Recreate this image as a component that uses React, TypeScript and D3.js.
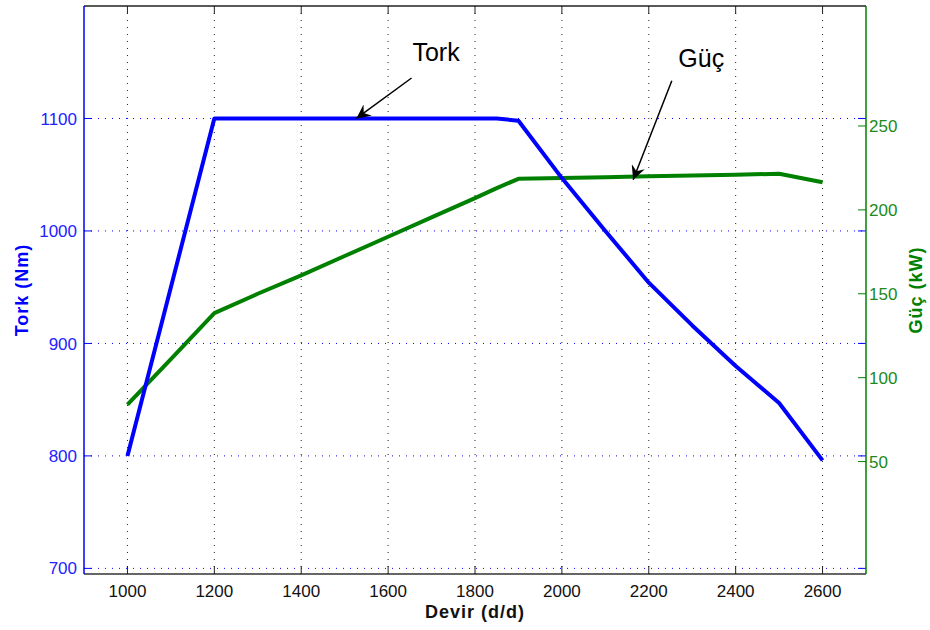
import React, { useEffect, useRef } from 'react';
import * as d3 from 'd3';

// engine speed (d/d)
const rpm = [1000, 1100, 1200, 1300, 1400, 1500, 1600, 1700, 1800, 1850, 1900, 2000, 2100, 2200, 2300, 2400, 2500, 2600];
// torque (Nm)
const torque = [800, 950, 1100, 1100, 1100, 1100, 1100, 1100, 1100, 1100, 1098, 1047, 1000, 954, 916, 880, 847, 796];
// power (kW)
const power = [84, 111, 138.5, 150, 161, 172.5, 184, 195.5, 207, 213, 218.5, 219, 219.5, 220, 220.5, 221, 221.5, 216.5];

const xTicks = [1000, 1200, 1400, 1600, 1800, 2000, 2200, 2400, 2600];
const torqueTicks = [700, 800, 900, 1000, 1100];
const powerTicks = [50, 100, 150, 200, 250];

// annotations in data units (text position, arrow tail, arrow head)
const torkNote = { label: 'Tork', text: [1656, 1151], tail: [1654, 1136], head: [1527, 1100] };
const gucNote = { label: 'Güç', text: [2268, 285], tail: [2253, 277], head: [2164, 218] };

const App = () => {
  const svgRef = useRef<SVGSVGElement>(null);

  useEffect(() => {
    const width = 930;
    const height = 630;
    const margin = { top: 6, right: 64, bottom: 56, left: 84 };
    const font = 'Arial, "Liberation Sans", sans-serif';

    const svg = d3.select(svgRef.current);
    svg.selectAll('*').remove();
    svg.attr('width', width).attr('height', height);

    const x = d3.scaleLinear().domain([900, 2700]).range([margin.left, width - margin.right]);
    const yL = d3.scaleLinear().domain([695, 1200]).range([height - margin.bottom, margin.top]);
    const yR = d3.scaleLinear().domain([-17, 321.5]).range([height - margin.bottom, margin.top]);

    const x0 = x.range()[0], x1 = x.range()[1];
    const yb = yL.range()[0], yt = yL.range()[1];

    svg.append('rect').attr('width', width).attr('height', height).attr('fill', '#fff');

    svg.append('defs').append('marker')
      .attr('id', 'head')
      .attr('viewBox', '0 0 10 10')
      .attr('refX', 10).attr('refY', 5)
      .attr('markerWidth', 19).attr('markerHeight', 14)
      .attr('markerUnits', 'userSpaceOnUse')
      .attr('orient', 'auto')
      .append('path').attr('d', 'M0,0 L10,5 L0,10 L3.5,5 Z').attr('fill', '#000');

    // grid
    svg.append('g').selectAll('line').data(xTicks).join('line')
      .attr('x1', d => x(d)).attr('x2', d => x(d))
      .attr('y1', yt).attr('y2', yb)
      .attr('stroke', '#222').attr('stroke-width', 1).attr('stroke-dasharray', '1,6');
    svg.append('g').selectAll('line').data(torqueTicks).join('line')
      .attr('x1', x0).attr('x2', x1)
      .attr('y1', d => yL(d)).attr('y2', d => yL(d))
      .attr('stroke', '#0000ff').attr('stroke-width', 1).attr('stroke-dasharray', '1,6');

    // box
    svg.append('line').attr('x1', x0).attr('x2', x1).attr('y1', yt).attr('y2', yt)
      .attr('stroke', '#222').attr('stroke-width', 1.5);
    svg.append('line').attr('x1', x0).attr('x2', x1).attr('y1', yb).attr('y2', yb)
      .attr('stroke', '#333').attr('stroke-width', 1.5);

    // x ticks (inward, top and bottom)
    const xt = svg.append('g');
    xTicks.forEach(t => {
      xt.append('line').attr('x1', x(t)).attr('x2', x(t)).attr('y1', yb).attr('y2', yb - 8).attr('stroke', '#222');
      xt.append('line').attr('x1', x(t)).attr('x2', x(t)).attr('y1', yt).attr('y2', yt + 8).attr('stroke', '#222');
      xt.append('text').attr('x', x(t)).attr('y', yb + 23)
        .attr('text-anchor', 'middle').attr('font-family', font).attr('font-size', 17)
        .attr('fill', '#111').text(t);
    });

    // left axis
    svg.append('line').attr('x1', x0).attr('x2', x0).attr('y1', yt).attr('y2', yb)
      .attr('stroke', '#0000ff').attr('stroke-width', 1.5);
    const lt = svg.append('g');
    torqueTicks.forEach(t => {
      lt.append('line').attr('x1', x0).attr('x2', x0 + 8).attr('y1', yL(t)).attr('y2', yL(t)).attr('stroke', '#0000ff');
      lt.append('line').attr('x1', x1).attr('x2', x1 - 8).attr('y1', yL(t)).attr('y2', yL(t)).attr('stroke', '#0000ff');
      lt.append('text').attr('x', x0 - 7).attr('y', yL(t)).attr('dy', '0.36em')
        .attr('text-anchor', 'end').attr('font-family', font).attr('font-size', 17)
        .attr('fill', '#2222ff').text(t);
    });

    // right axis
    svg.append('line').attr('x1', x1).attr('x2', x1).attr('y1', yt).attr('y2', yb)
      .attr('stroke', '#008000').attr('stroke-width', 1.5);
    const rt = svg.append('g');
    powerTicks.forEach(t => {
      rt.append('line').attr('x1', x1).attr('x2', x1 - 8).attr('y1', yR(t)).attr('y2', yR(t)).attr('stroke', '#008000');
      rt.append('text').attr('x', x1 + 3).attr('y', yR(t)).attr('dy', '0.36em')
        .attr('text-anchor', 'start').attr('font-family', font).attr('font-size', 17)
        .attr('fill', '#1a8a1a').text(t);
    });

    // data lines
    const pts = rpm.map((r, i) => ({ r, t: torque[i], p: power[i] }));
    const torqueLine = d3.line<any>().x(d => x(d.r)).y(d => yL(d.t));
    const powerLine = d3.line<any>().x(d => x(d.r)).y(d => yR(d.p));

    svg.append('path').datum(pts).attr('d', powerLine)
      .attr('fill', 'none').attr('stroke', '#008000').attr('stroke-width', 4).attr('stroke-linejoin', 'round');
    svg.append('path').datum(pts).attr('d', torqueLine)
      .attr('fill', 'none').attr('stroke', '#0000ff').attr('stroke-width', 4).attr('stroke-linejoin', 'round');

    // annotations
    const ann = (n: any, ys: any) => {
      svg.append('line')
        .attr('x1', x(n.tail[0])).attr('y1', ys(n.tail[1]))
        .attr('x2', x(n.head[0])).attr('y2', ys(n.head[1]))
        .attr('stroke', '#000').attr('stroke-width', 1.5).attr('marker-end', 'url(#head)');
      svg.append('text').attr('x', x(n.text[0])).attr('y', ys(n.text[1]))
        .attr('font-family', font).attr('font-size', 25).attr('fill', '#000').text(n.label);
    };
    ann(torkNote, yL);
    ann(gucNote, yR);

    // axis titles
    svg.append('text').attr('x', (x0 + x1) / 2).attr('y', height - 12)
      .attr('text-anchor', 'middle').attr('font-family', font).attr('font-size', 18)
      .attr('font-weight', 'bold').attr('letter-spacing', 1).attr('fill', '#111').text('Devir (d/d)');
    svg.append('text').attr('transform', `translate(28, ${(yt + yb) / 2}) rotate(-90)`)
      .attr('text-anchor', 'middle').attr('font-family', font).attr('font-size', 18)
      .attr('font-weight', 'bold').attr('letter-spacing', 1).attr('fill', '#0000ff').text('Tork (Nm)');
    svg.append('text').attr('transform', `translate(922, ${(yt + yb) / 2}) rotate(-90)`)
      .attr('text-anchor', 'middle').attr('font-family', font).attr('font-size', 18)
      .attr('font-weight', 'bold').attr('letter-spacing', 1).attr('fill', '#008000').text('Güç (kW)');
  }, []);

  return (
    <div style={{ position: 'absolute', left: 0, top: 0 }}>
      <svg ref={svgRef} style={{ display: 'block' }}></svg>
    </div>
  );
};

export default App;
